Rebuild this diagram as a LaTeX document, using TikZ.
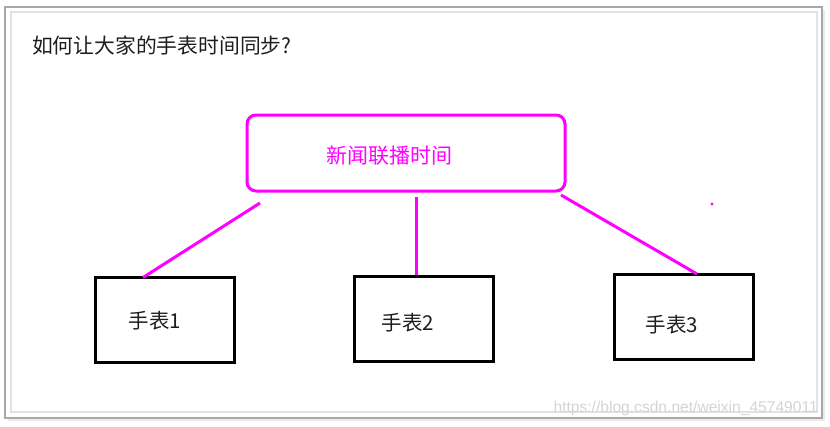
\documentclass[tikz,border=0pt]{standalone}
\usepackage{fontspec}
\setmainfont{Liberation Sans}
\newfontfamily\cjk{Noto Sans CJK SC}
\definecolor{mag}{HTML}{FF00FF}
\definecolor{framegray}{HTML}{A8A8A8}
\definecolor{innergray}{HTML}{E2E2E2}
\definecolor{wm}{HTML}{D4D4D4}
\definecolor{txt}{HTML}{1E1E1E}
\begin{document}
\begin{tikzpicture}[x=1pt,y=-1pt,
  watchbox/.style={draw=black,line width=3pt,minimum width=139pt,minimum height=85pt,inner sep=0pt},
  newsbox/.style={draw=mag,line width=3pt,rounded corners=9pt,minimum width=318pt,minimum height=76pt,inner sep=0pt},
  label/.style={text=txt,font=\cjk\fontsize{20.5}{24}\selectfont},
  link/.style={draw=mag,line width=3pt}]
\useasboundingbox (0,0) rectangle (830,426);
\fill[white] (0,0) rectangle (830,426);
\fill[black!8] (8,10) rectangle (825,421);
\draw[framegray,line width=1.2pt,fill=white] (5,7) rectangle (822,418);
\draw[innergray,line width=1.5pt] (11,12) rectangle (817,412);
\node[anchor=west,label,font=\cjk\fontsize{20.8}{24}\selectfont] (title) at (28.5,46) {如何让大家的手表时间同步?};
\node[newsbox] (news) at (406,153) {};
\node[text=mag,font=\cjk\fontsize{21}{24}\selectfont] (newslabel) at (389,156) {新闻联播时间};
\node[watchbox] (w1) at (164.5,319.5) {};
\node[watchbox] (w2) at (424,319) {};
\node[watchbox] (w3) at (684,316.5) {};
\node[label] (l1) at (155,321) {手表1};
\node[label] (l2) at (408,323) {手表2};
\node[label] (l3) at (672,325) {手表3};
\coordinate (a1) at (260,203);
\coordinate (b1) at (143,277.5);
\coordinate (a2) at (416,197);
\coordinate (b2) at (416,275);
\coordinate (a3) at (561,195);
\coordinate (b3) at (697,274);
\draw[link] (a1) -- (b1);
\draw[link] (a2) -- (b2);
\draw[link] (a3) -- (b3);
\fill[mag] (712,204) circle (1.6pt);
\node[anchor=east,text=wm,font=\fontsize{15.6}{17}\selectfont,inner sep=0pt] (wmark) at (818,408) {https://blog.csdn.net/weixin\_45749011};
\end{tikzpicture}
\end{document}
